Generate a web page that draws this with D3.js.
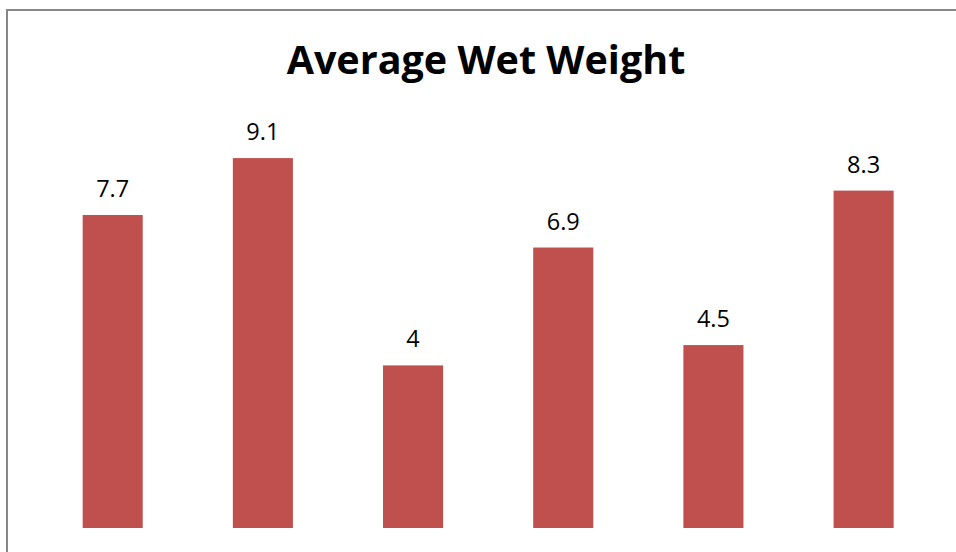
<!DOCTYPE html>
<html>
<head>
<meta charset="utf-8">
<script src="https://cdn.jsdelivr.net/npm/d3@7"></script>
<style>
  html, body { margin: 0; padding: 0; background: #fff; overflow: hidden; }
  svg { display: block; }
</style>
</head>
<body>
<svg id="chart" width="956" height="552"></svg>
<script>
const categories = ["A", "B", "C", "D", "E", "F"];
const values = [7.7, 9.1, 4, 6.9, 4.5, 8.3];
const labels = ["7.7", "9.1", "4", "6.9", "4.5", "8.3"];
const title = "Average Wet Weight";

const svg = d3.select("#chart");

// chart frame
svg.append("rect")
  .attr("x", 7).attr("y", 10)
  .attr("width", 980).attr("height", 600)
  .attr("fill", "#fff")
  .attr("stroke", "#878787")
  .attr("stroke-width", 2);

const x = d3.scaleBand()
  .domain(categories)
  .range([37.6, 938.7])
  .paddingInner(0.6)
  .paddingOuter(0.3);

const y = d3.scaleLinear().domain([0, 10]).range([528, 121.5]);

svg.append("g").selectAll("rect")
  .data(values)
  .join("rect")
  .attr("x", (d, i) => x(categories[i]))
  .attr("y", d => y(d))
  .attr("width", x.bandwidth())
  .attr("height", d => y(0) - y(d))
  .attr("fill", "#C0504D");

svg.append("g").selectAll("text")
  .data(values)
  .join("text")
  .attr("x", (d, i) => x(categories[i]) + x.bandwidth() / 2)
  .attr("y", d => y(d) - 18)
  .attr("text-anchor", "middle")
  .attr("font-family", "'Open Sans', 'Noto Sans', sans-serif")
  .attr("font-size", 23.5)
  .attr("fill", "#000")
  .text((d, i) => labels[i]);

svg.append("text")
  .attr("x", 486)
  .attr("y", 74)
  .attr("text-anchor", "middle")
  .attr("font-family", "'Open Sans', 'Noto Sans', sans-serif")
  .attr("font-weight", "bold")
  .attr("font-size", 39.5)
  .attr("fill", "#000")
  .text(title);
</script>
</body>
</html>
